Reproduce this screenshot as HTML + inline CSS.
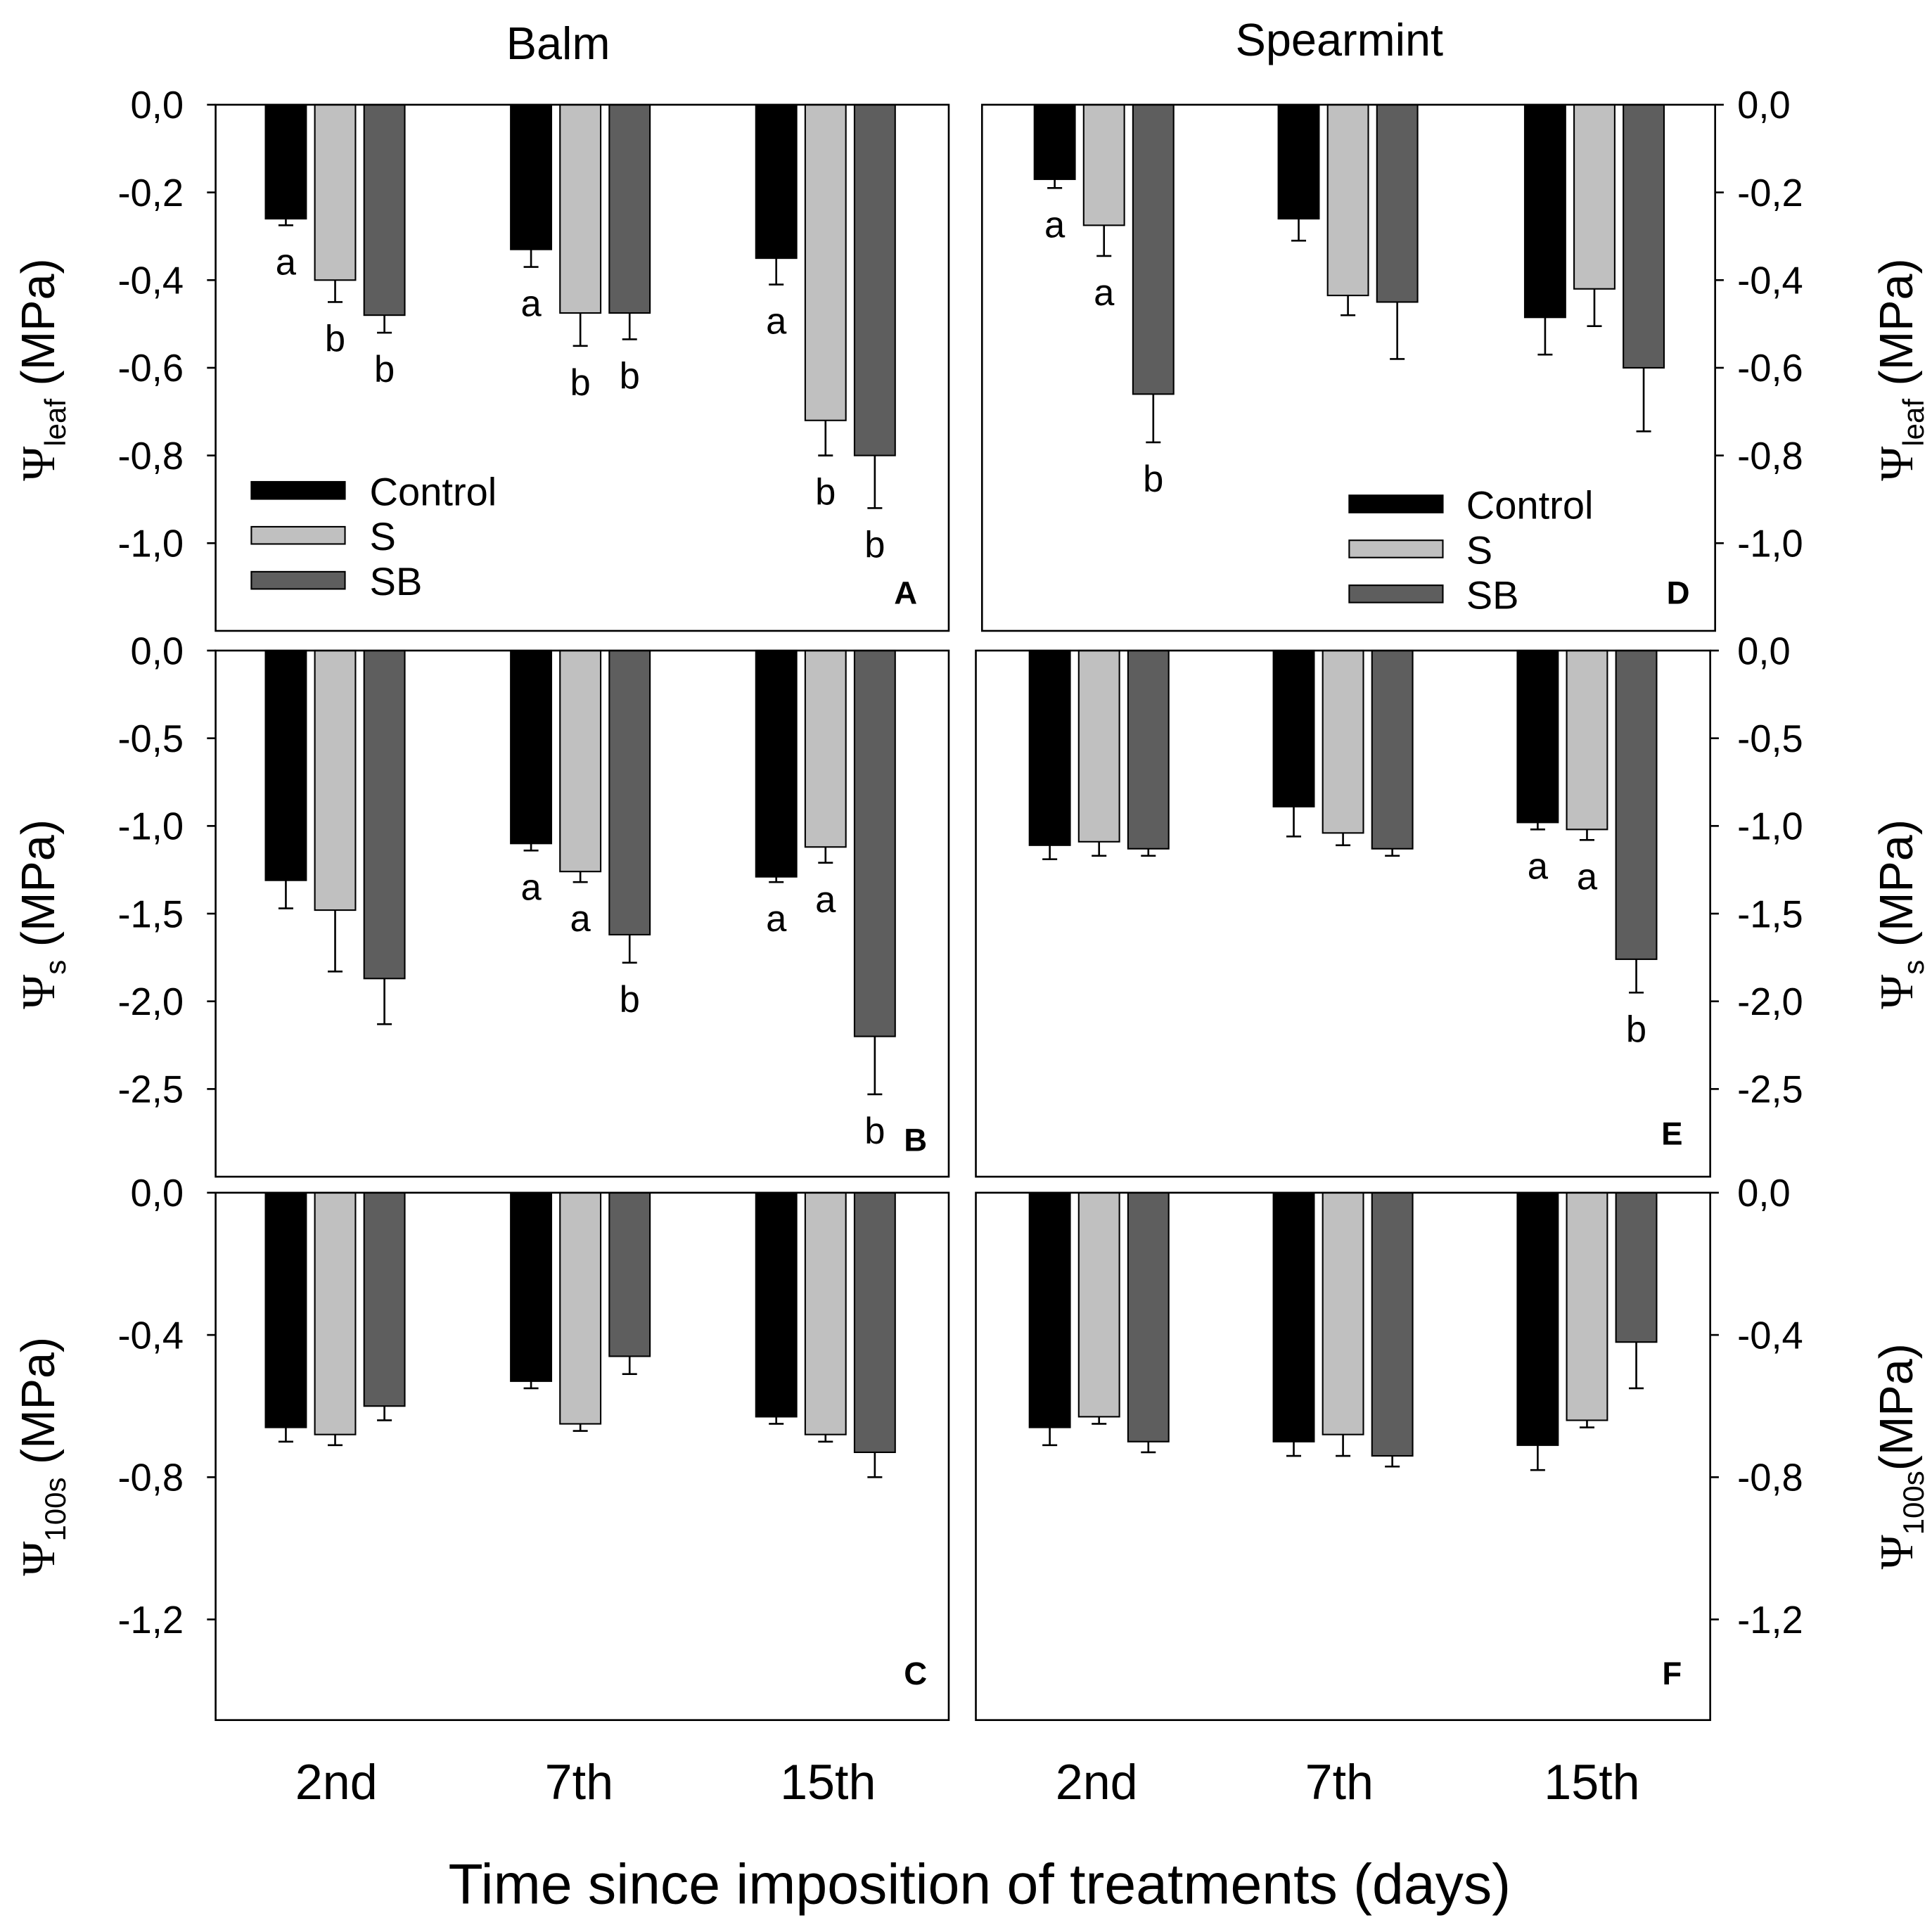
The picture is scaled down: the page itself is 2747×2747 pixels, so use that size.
<!DOCTYPE html>
<html><head><meta charset="utf-8"><style>
html,body{margin:0;padding:0;background:#fff}
svg{display:block}
text{font-family:"Liberation Sans",Arial,sans-serif;fill:#000}
</style></head><body>
<svg id="chart" width="2747" height="2747" viewBox="0 0 1568 1568" xmlns="http://www.w3.org/2000/svg">
<text x="453" y="48" font-size="37" text-anchor="middle">Balm</text>
<text x="1087" y="45" font-size="37" text-anchor="middle">Spearmint</text>
<text x="795" y="1545" font-size="46" text-anchor="middle">Time since imposition of treatments (days)</text>
<g id="plots"></g>
</svg>
<script>
const groups = ["2nd","7th","15th"];
const series = ["Control","S","SB"];
const colors = ["#000000","#c0c0c0","#5e5e5e"];
const A_vals = [[-0.26,-0.33,-0.35],[-0.40,-0.475,-0.72],[-0.48,-0.475,-0.80]];
const A_err  = [[-0.275,-0.37,-0.41],[-0.45,-0.55,-0.80],[-0.52,-0.535,-0.92]];
const A_let  = [["a","a","a"],["b","b","b"],["b","b","b"]];
const D_vals = [[-0.17,-0.26,-0.485],[-0.275,-0.435,-0.42],[-0.66,-0.45,-0.60]];
const D_err  = [[-0.19,-0.31,-0.57],[-0.345,-0.48,-0.505],[-0.77,-0.58,-0.745]];
const D_let  = [["a","",""],["a","",""],["b","",""]];
const B_vals = [[-1.31,-1.10,-1.29],[-1.48,-1.26,-1.12],[-1.87,-1.62,-2.20]];
const B_err  = [[-1.47,-1.14,-1.32],[-1.83,-1.32,-1.21],[-2.13,-1.78,-2.53]];
const B_let  = [["","a","a"],["","a","a"],["","b","b"]];
const E_vals = [[-1.11,-0.89,-0.98],[-1.09,-1.04,-1.02],[-1.13,-1.13,-1.76]];
const E_err  = [[-1.19,-1.06,-1.02],[-1.17,-1.11,-1.08],[-1.17,-1.17,-1.95]];
const E_let  = [["","","a"],["","","a"],["","","b"]];
const C_vals = [[-0.66,-0.53,-0.63],[-0.68,-0.65,-0.68],[-0.60,-0.46,-0.73]];
const C_err  = [[-0.70,-0.55,-0.65],[-0.71,-0.67,-0.70],[-0.64,-0.51,-0.80]];
const F_vals = [[-0.66,-0.70,-0.71],[-0.63,-0.68,-0.64],[-0.70,-0.74,-0.42]];
const F_err  = [[-0.71,-0.74,-0.78],[-0.65,-0.74,-0.66],[-0.73,-0.77,-0.55]];
const noLet = [["","",""],["","",""],["","",""]];
const ticksA = [0,-0.2,-0.4,-0.6,-0.8,-1.0];
const tickLabelsA = ["0,0","-0,2","-0,4","-0,6","-0,8","-1,0"];
const ticksB = [0,-0.5,-1.0,-1.5,-2.0,-2.5];
const tickLabelsB = ["0,0","-0,5","-1,0","-1,5","-2,0","-2,5"];
const ticksC = [0,-0.4,-0.8,-1.2];
const tickLabelsC = ["0,0","-0,4","-0,8","-1,2"];

const NS="http://www.w3.org/2000/svg";
const root=document.getElementById('plots');
function mk(tag,attrs,parent){const e=document.createElementNS(NS,tag);for(const k in attrs)e.setAttribute(k,attrs[k]);(parent||root).appendChild(e);return e;}

const panels=[
 {id:"A",x0:175,x1:770,y0:85,y1:512,min:-1.2,vals:A_vals,err:A_err,let:A_let,ticks:ticksA,tl:tickLabelsA,side:"left",centers:[272,471,670],lab:[735,490],title:["leaf"],ty:300,legend:[204,300,398]},
 {id:"D",x0:797,x1:1392,y0:85,y1:512,min:-1.2,vals:D_vals,err:D_err,let:D_let,ticks:ticksA,tl:tickLabelsA,side:"right",centers:[896,1094,1294],lab:[1362,490],title:["leaf"],ty:300,legend:[1095,1190,409]},
 {id:"B",x0:175,x1:770,y0:528,y1:955,min:-3.0,vals:B_vals,err:B_err,let:B_let,ticks:ticksB,tl:tickLabelsB,side:"left",centers:[272,471,670],lab:[743,934],title:["s"],ty:742},
 {id:"E",x0:792,x1:1388,y0:528,y1:955,min:-3.0,vals:E_vals,err:E_err,let:E_let,ticks:ticksB,tl:tickLabelsB,side:"right",centers:[892,1090,1288],lab:[1357,929],title:["s"],ty:742},
 {id:"C",x0:175,x1:770,y0:968,y1:1396,min:-1.483,vals:C_vals,err:C_err,let:noLet,ticks:ticksC,tl:tickLabelsC,side:"left",centers:[272,471,670],lab:[743,1367],title:["100s"],ty:1182},
 {id:"F",x0:792,x1:1388,y0:968,y1:1396,min:-1.483,vals:F_vals,err:F_err,let:noLet,ticks:ticksC,tl:tickLabelsC,side:"right",centers:[892,1090,1288],lab:[1357,1367],title:["100s"],ty:1182}
];
const barW=33, step=40;

panels.forEach(p=>{
 const g=mk('g',{});
 
 
 const y=v=>p.y0+(v/p.min)*(p.y1-p.y0);
 series.forEach((s,si)=>{
  groups.forEach((gr,gi)=>{
   const cx=p.centers[gi]+(si-1)*step;
   const v=p.vals[si][gi], e=p.err[si][gi];
   const r=mk('rect',{x:cx-barW/2,y:p.y0,width:barW,height:y(v)-p.y0,fill:colors[si],stroke:"#000","stroke-width":1.2},g);
   
   
   const l=mk('path',{d:`M${cx} ${y(v)}V${y(e)}M${cx-6} ${y(e)}H${cx+6}`,stroke:"#000","stroke-width":1.5,fill:"none"},g);
   
   
   const lt=p.let[si][gi];
   if(lt){const t=mk('text',{x:cx,y:y(e)+40,"font-size":30,"text-anchor":"middle"},g);t.textContent=lt;
    
    }
  });
 });
 const f=mk('rect',{x:p.x0,y:p.y0,width:p.x1-p.x0,height:p.y1-p.y0,fill:"none",stroke:"#000","stroke-width":1.5},g);
 
 
 p.ticks.forEach((tv,i)=>{
  const ty=y(tv);
  const ax=p.side==="left"?p.x0:p.x1;
  const dx=p.side==="left"?-7:7;
  mk('line',{x1:ax,x2:ax+dx,y1:ty,y2:ty,stroke:"#000","stroke-width":1.5},g);
  const t=mk('text',{x:p.side==="left"?149:1410,y:ty+11,"font-size":31,"text-anchor":p.side==="left"?"end":"start"},g);
  t.textContent=p.tl[i];
  
  
 });
 const pl=mk('text',{x:p.lab[0],y:p.lab[1],"font-size":26,"font-weight":"bold","text-anchor":"middle"},g);
 pl.textContent=p.id;
 
 
 const tx=p.side==="left"?44:1552;
 const yt=mk('text',{transform:`translate(${tx},${p.ty}) rotate(-90)`,"font-size":38,"text-anchor":"middle"},g);
 
 
 const t1=mk('tspan',{"font-family":"Liberation Serif, serif"},yt);t1.textContent="Ψ";
 const t2=mk('tspan',{"font-size":24,dy:9},yt);t2.textContent=p.title[0];
 const t3=mk('tspan',{dy:-9},yt);t3.textContent=(p.id==="F"?"":" ")+"(MPa)";
 if(p.legend){
  series.forEach((s,si)=>{
   const ly=p.legend[2]+si*36.5;
   const sw=mk('rect',{x:p.legend[0],y:ly-7,width:76,height:14,fill:colors[si],stroke:"#000","stroke-width":1.2},g);
   
   
   const lt=mk('text',{x:p.legend[1],y:ly+12,"font-size":32},g);
   lt.textContent=s;
   
   
  });
 }
});
const xl=[[273,470,672],[890,1087,1292]];
xl.forEach(arr=>arr.forEach((x,i)=>{
 const t=mk('text',{x:x,y:1460,"font-size":40,"text-anchor":"middle"});
 t.textContent=groups[i];
 
 
}));
</script>
</body></html>
